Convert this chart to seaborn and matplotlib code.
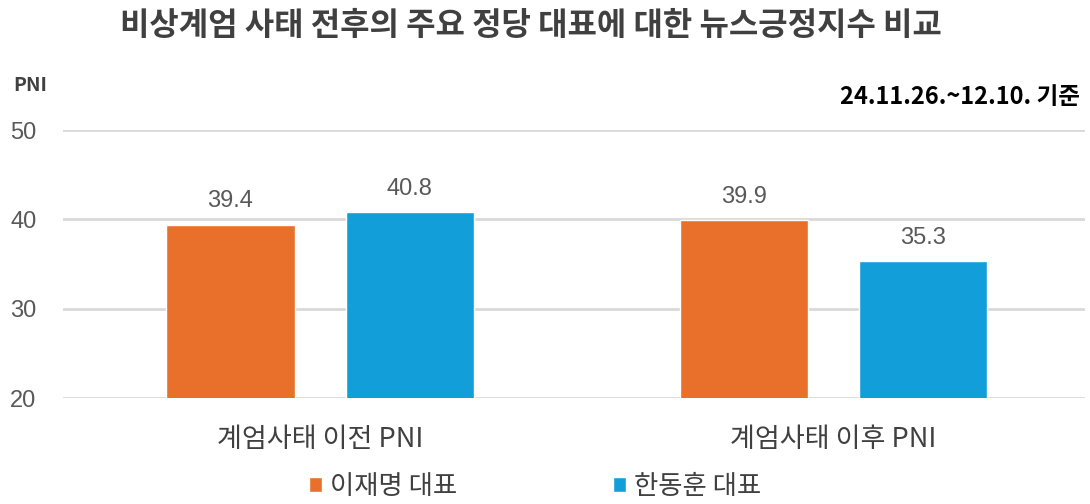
import matplotlib
matplotlib.use("Agg")
import matplotlib.pyplot as plt
import seaborn as sns
import pandas as pd

categories = ["계엄사태 이전 PNI", "계엄사태 이후 PNI"]
series_names = ["이재명 대표", "한동훈 대표"]
lee_values = [39.4, 39.9]
han_values = [40.8, 35.3]
colors = ["#E8702A", "#129FD9"]

sns.set_theme(style="white")
plt.rcParams['font.family'] = ['Noto Sans CJK KR', 'DejaVu Sans']

df = pd.DataFrame({
    "cat": categories * 2,
    "series": [series_names[0]] * 2 + [series_names[1]] * 2,
    "value": lee_values + han_values,
})

fig = plt.figure(figsize=(10.9, 5.04), dpi=100)
ax = fig.add_axes([63 / 1090, 0.2103, 1022 / 1090, 0.5317])

sns.barplot(data=df, x="cat", y="value", hue="series", palette=colors,
            width=0.698, gap=0.285, ax=ax, legend=True, saturation=1)

ax.set_xlim(-0.501, 1.491)
ax.set_ylim(20, 50)
ax.set_yticks([20, 30, 40, 50])
ax.yaxis.grid(True, color="#D9D9D9", linewidth=2)
ax.set_axisbelow(True)
for s in ax.spines.values():
    s.set_visible(False)
ax.tick_params(axis="y", length=0, labelsize=17, labelcolor="#595959", pad=19)
for t in ax.get_yticklabels():
    t.set_fontfamily(["Liberation Sans"])
ax.tick_params(axis="x", length=0, labelsize=19.5, labelcolor="#404040", pad=20)
ax.set_xlabel("")
ax.set_ylabel("")

for c in ax.containers:
    labels = ax.bar_label(c, fmt="%.1f", padding=9, fontsize=17, color="#595959")
    for t in labels:
        t.set_fontfamily(["Liberation Sans"])

leg = ax.legend(loc="center", bbox_to_anchor=(0.462, -0.33), ncol=2,
                frameon=False, fontsize=19, handlelength=0.5, handleheight=0.5,
                handletextpad=0.3, columnspacing=5.9, labelcolor="#404040",
                borderpad=0.1)

fig.text(0.487, 0.948, "비상계엄 사태 전후의 주요 정당 대표에 대한 뉴스긍정지수 비교",
         ha="center", va="center", fontsize=23, fontweight="bold", color="#404040")
fig.text(0.012, 0.83, "PNI", ha="left", va="center", fontsize=14,
         fontweight="bold", color="#404040")
fig.text(0.991, 0.807, "24.11.26.~12.10. 기준", ha="right", va="center",
         fontsize=17, fontweight="bold", color="#000000")

fig.savefig("out.png", dpi=100)
